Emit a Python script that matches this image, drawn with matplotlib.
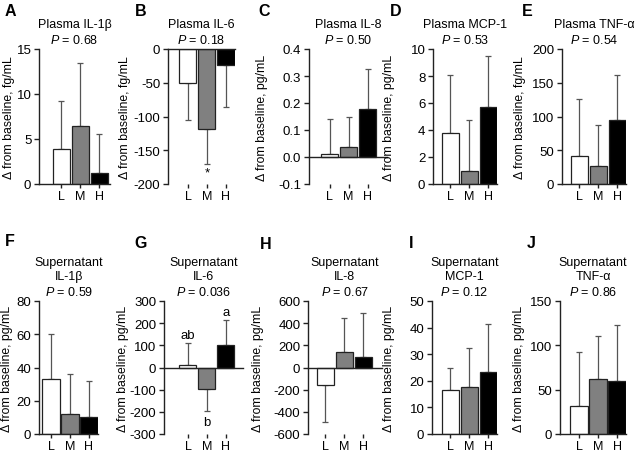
import matplotlib
matplotlib.use("Agg")
import matplotlib.pyplot as plt

plt.rcParams['font.family'] = ['Liberation Sans', 'DejaVu Sans']
plt.rcParams['axes.unicode_minus'] = False
plt.rcParams['mathtext.fontset'] = 'custom'
plt.rcParams['mathtext.it'] = 'Liberation Sans:italic'
plt.rcParams['mathtext.rm'] = 'Liberation Sans'

groups = ["L", "M", "H"]
colors = ["white", "#808080", "black"]

letters = ["A", "B", "C", "D", "E", "F", "G", "H", "I", "J"]
titles = ["Plasma IL-1β", "Plasma IL-6", "Plasma IL-8", "Plasma MCP-1", "Plasma TNF-α",
          "Supernatant\nIL-1β", "Supernatant\nIL-6", "Supernatant\nIL-8",
          "Supernatant\nMCP-1", "Supernatant\nTNF-α"]
pvals = ["0.68", "0.18", "0.50", "0.53", "0.54", "0.59", "0.036", "0.67", "0.12", "0.86"]
units = ["fg/mL", "fg/mL", "pg/mL", "pg/mL", "fg/mL", "pg/mL", "pg/mL", "pg/mL", "pg/mL", "pg/mL"]

means = [
    [3.9, 6.5, 1.2],
    [-51, -118, -24],
    [0.01, 0.037, 0.177],
    [3.75, 0.95, 5.7],
    [41, 26, 95],
    [33, 12, 10],
    [12, -97, 102],
    [-155, 140, 95],
    [16.5, 17.5, 23.2],
    [32, 62, 60],
]
err_ends = [
    [9.2, 13.5, 5.6],
    [-105, -170, -86],
    [0.14, 0.147, 0.325],
    [8.05, 4.75, 9.5],
    [126, 88, 161],
    [60, 36, 32],
    [112, -197, 215],
    [-490, 445, 495],
    [25, 32.3, 41.5],
    [92, 110, 123],
]
yticks = [
    [0, 5, 10, 15],
    [-200, -150, -100, -50, 0],
    [-0.1, 0.0, 0.1, 0.2, 0.3, 0.4],
    [0, 2, 4, 6, 8, 10],
    [0, 50, 100, 150, 200],
    [0, 20, 40, 60, 80],
    [-300, -200, -100, 0, 100, 200, 300],
    [-600, -400, -200, 0, 200, 400, 600],
    [0, 10, 20, 30, 40, 50],
    [0, 50, 100, 150],
]
annotations = {
    1: [(1, -183, "*")],
    6: [(0, 145, "ab"), (1, -247, "b"), (2, 250, "a")],
}

# layout in pixels: (axis x, left xlim, right xlim)
W, H = 642, 456
PX_PER_UNIT = 19.0
xinfo = [
    (39, -1.18, 2.55), (168, -1.05, 2.47), (309, -1.08, 3.0), (433, -0.92, 2.47), (562, -0.9, 2.47),
    (39, -0.63, 2.5), (164, -1.26, 2.9), (308, -0.92, 2.95), (432, -0.97, 2.47), (560, -1.0, 2.47),
]
rows_y = [(50, 185), (302, 435)]
ylabel_cx = [9, 125, 262, 389, 520, 7, 123, 258, 389, 519]
letter_pos = [(10, 12), (141, 12), (264, 12), (396, 12), (527, 12),
              (10, 242), (141, 244), (266, 245), (411, 244), (531, 244)]

fig = plt.figure(figsize=(W / 100, H / 100), dpi=100)

fs = 9
ytfs = 9.5
xtfs = 9
for i in range(10):
    x0, xl, xr = xinfo[i]
    top, bot = rows_y[i // 5]
    wpx = (xr - xl) * PX_PER_UNIT
    ax = fig.add_axes([x0 / W, 1 - bot / H, wpx / W, (bot - top) / H])
    xs = list(range(3))
    m = means[i]
    e = err_ends[i]
    ax.bar(xs, m, width=0.9, color=colors, edgecolor="#222222", linewidth=0.9, zorder=3)
    for j in range(3):
        lo = [0]
        hi = [0]
        if m[j] >= 0:
            hi = [e[j] - m[j]]
        else:
            lo = [m[j] - e[j]]
        ax.errorbar([xs[j]], [m[j]], yerr=[lo, hi], fmt="none", ecolor="#555555",
                    elinewidth=0.9, capsize=2, capthick=0.9, zorder=2)
    ax.set_xlim(xl, xr)
    yt = yticks[i]
    ax.set_ylim(yt[0], yt[-1])
    ax.set_yticks(yt)
    if i == 2:
        ax.set_yticklabels([f"{v:.1f}" for v in yt])
    else:
        ax.set_yticklabels([f"{v:g}" for v in yt])
    ax.set_xticks(xs)
    ax.set_xticklabels(groups)
    for s in ["top", "right", "bottom"]:
        ax.spines[s].set_visible(False)
    ax.spines["left"].set_linewidth(1.0)
    ax.spines["left"].set_color("#222222")
    ax.axhline(0, color="#222222", linewidth=1.0, zorder=4, clip_on=False)
    ax.tick_params(axis="y", labelsize=ytfs, length=3.5, width=1.0, color="#222222", pad=2)
    ax.tick_params(axis="x", labelsize=xtfs, length=3, width=1.0, color="#222222", pad=1)
    ax.set_ylabel("Δ from baseline, " + units[i], fontsize=8.8, va="center")
    ax.yaxis.set_label_coords(-(x0 - ylabel_cx[i]) / wpx, 0.5)
    ax.set_title(titles[i] + "\n" + r"$\it{P}$" + " = " + pvals[i], fontsize=fs,
                 linespacing=1.3, pad=4)
    for (xa, ya, t) in annotations.get(i, []):
        ax.text(xa, ya, t, ha="center", va="center", fontsize=ytfs)
    lx, ly = letter_pos[i]
    fig.text(lx / W, 1 - ly / H, letters[i], fontsize=11.5, fontweight="bold",
             ha="center", va="center")

fig.savefig("out.png", dpi=100, facecolor="white")
